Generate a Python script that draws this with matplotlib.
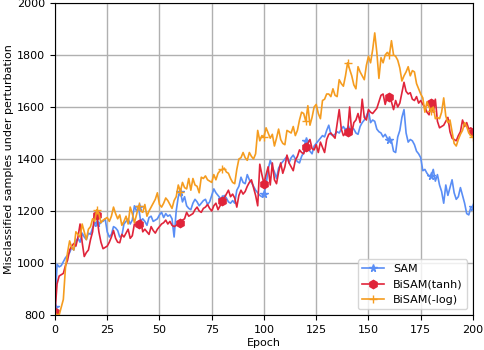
import matplotlib
matplotlib.use("Agg")
import matplotlib.pyplot as plt
import numpy as np

epochs = list(range(0, 201))

sam = [
    830, 995, 985, 990, 1005, 1020, 1030, 1040, 1060, 1050,
    1085, 1095, 1080, 1115, 1100, 1090, 1115, 1110, 1135, 1150,
    1155, 1145, 1160, 1160, 1170, 1120, 1100, 1110, 1140, 1135,
    1125, 1100, 1105, 1150, 1160, 1170, 1150, 1165, 1220, 1200,
    1215, 1160, 1170, 1160, 1145, 1175, 1180, 1160, 1165, 1170,
    1185, 1195, 1175, 1190, 1180, 1185, 1170, 1100, 1200, 1255,
    1275, 1235, 1255, 1220, 1210, 1205, 1230, 1245, 1235, 1220,
    1230, 1240, 1245, 1225, 1235, 1260, 1285, 1270, 1260, 1250,
    1245, 1260, 1250, 1235, 1230, 1240, 1230, 1280, 1295, 1330,
    1310, 1305, 1340, 1320, 1310, 1295, 1280, 1270, 1260, 1255,
    1265, 1300, 1360, 1395, 1370, 1350, 1325, 1365, 1380, 1390,
    1400, 1410, 1385, 1405, 1415, 1400, 1390, 1385, 1410, 1425,
    1470, 1440, 1430, 1420, 1450, 1460, 1470, 1480, 1490, 1485,
    1510, 1530, 1495, 1490, 1495, 1505, 1500, 1515, 1525, 1510,
    1515, 1505, 1520, 1515, 1500, 1495, 1525, 1540, 1550, 1565,
    1585, 1540, 1550, 1545, 1515, 1505, 1500, 1485, 1495, 1480,
    1475, 1470, 1430, 1425, 1485, 1510, 1560, 1590, 1500, 1465,
    1475, 1470, 1455, 1430, 1420, 1405, 1355, 1360, 1345, 1335,
    1335, 1360, 1315, 1340, 1300, 1275, 1230, 1300, 1260, 1290,
    1320, 1270, 1245, 1255, 1290, 1260, 1230, 1190, 1185, 1215,
    1215,
]

bisam_tanh = [
    810, 920, 950, 955, 960, 990, 1010, 1050, 1065, 1075,
    1065, 1100, 1150, 1080, 1025, 1040, 1050, 1090, 1120, 1190,
    1185, 1120, 1080, 1055, 1060, 1065, 1080, 1100, 1125, 1095,
    1080, 1078, 1110, 1100, 1115, 1130, 1095, 1105, 1150, 1145,
    1150, 1165, 1120, 1130, 1120, 1110, 1140, 1125, 1115, 1130,
    1140, 1150, 1155, 1165, 1150, 1160, 1145, 1140, 1145, 1150,
    1155, 1165, 1170, 1195, 1180, 1185, 1190, 1205, 1215, 1200,
    1195, 1210, 1215, 1225, 1210, 1200, 1220, 1230, 1205, 1220,
    1240, 1250, 1265, 1280, 1255, 1265, 1250, 1215, 1260, 1280,
    1265, 1275, 1295, 1310, 1320, 1290, 1260, 1220, 1380, 1340,
    1305, 1340, 1370, 1300, 1385, 1320, 1305, 1350, 1385, 1345,
    1370, 1415, 1385, 1370, 1355, 1395, 1410, 1435, 1425, 1420,
    1445, 1460, 1475, 1440, 1435, 1455, 1425, 1465, 1445, 1425,
    1475, 1495, 1500, 1490, 1480, 1535, 1590, 1515, 1490, 1500,
    1505, 1600, 1500, 1540, 1550, 1575, 1540, 1630, 1560, 1550,
    1590, 1580, 1575, 1585, 1595, 1620, 1645, 1650, 1610, 1640,
    1640, 1620, 1590, 1625, 1600, 1615, 1655, 1695, 1660, 1650,
    1655, 1630, 1625, 1640, 1615, 1625, 1610, 1600, 1580, 1570,
    1615, 1580, 1630, 1545, 1520, 1525, 1530, 1545, 1560, 1505,
    1480, 1475, 1470, 1490, 1505, 1550, 1525, 1540, 1515, 1520,
    1505,
]

bisam_log = [
    805, 800, 800, 830, 860, 980, 1040, 1085, 1060, 1050,
    1120, 1110, 1100, 1150, 1120, 1090, 1130, 1140, 1170, 1160,
    1205, 1190, 1155, 1165, 1170, 1175, 1160, 1180, 1215, 1190,
    1170, 1185, 1145, 1160, 1180, 1150, 1215, 1190, 1155, 1185,
    1220, 1200, 1195, 1225, 1180, 1200, 1215, 1230, 1245, 1270,
    1225, 1215, 1230, 1250, 1240, 1225, 1210, 1240, 1255, 1300,
    1275, 1310, 1290, 1285, 1325, 1280, 1325, 1300, 1295, 1270,
    1330, 1325, 1335, 1320, 1315, 1310, 1340, 1320, 1345, 1355,
    1360, 1365, 1350, 1345, 1325, 1310, 1305, 1360, 1400, 1405,
    1425, 1405, 1395, 1425, 1410, 1400, 1420, 1510, 1470, 1490,
    1485, 1520, 1500, 1480, 1495, 1450, 1480, 1515, 1475, 1460,
    1455, 1510, 1505, 1500, 1525, 1490, 1510, 1550, 1580, 1575,
    1545, 1605, 1530, 1560, 1600, 1610, 1575, 1555, 1625, 1630,
    1650, 1650, 1640, 1670, 1645, 1640, 1705, 1690, 1680, 1720,
    1770, 1745, 1720, 1685, 1670, 1755, 1735, 1720, 1705, 1760,
    1795, 1770, 1820, 1885, 1810, 1710, 1790, 1770, 1800, 1810,
    1800, 1855, 1800, 1795, 1780, 1750, 1700, 1720, 1735, 1755,
    1720, 1740, 1735, 1690, 1670, 1650, 1635, 1580, 1620, 1600,
    1585, 1600, 1555, 1560, 1555, 1580, 1635, 1565, 1540, 1550,
    1505, 1460, 1450, 1475, 1495, 1510, 1540, 1525, 1500, 1490,
    1485,
]

labels = ["SAM", "BiSAM(tanh)", "BiSAM(-log)"]
xticks = [0, 25, 50, 75, 100, 125, 150, 175, 200]
yticks = [800, 1000, 1200, 1400, 1600, 1800, 2000]

plt.rcParams['font.family'] = ['DejaVu Sans']
plt.rcParams['font.size'] = 8

fig = plt.figure(figsize=(4.84, 3.50), dpi=100)
ax = fig.add_axes([0.1136, 0.1, 0.8636, 0.8914])

ax.plot(epochs, sam, color='#5a8ef5', lw=1.2, marker='*', markersize=5.5,
        markevery=20, label=labels[0])
ax.plot(epochs, bisam_tanh, color='#e0243a', lw=1.2, marker='h', markersize=6,
        markevery=20, label=labels[1])
ax.plot(epochs, bisam_log, color='#f59c1f', lw=1.2, marker='+', markersize=6,
        markevery=20, label=labels[2])

ax.set_xlim(0, 200)
ax.set_ylim(800, 2000)
ax.set_xticks(xticks)
ax.set_yticks(yticks)
ax.grid(True, color='#b0b0b0', lw=1.0)
ax.set_axisbelow(True)
ax.tick_params(labelsize=8, length=3.5)
ax.set_xlabel("Epoch", fontsize=8, labelpad=2)
ax.set_ylabel("Misclassified samples under perturbation", fontsize=8, labelpad=2)
ax.legend(loc='lower right', fontsize=8, framealpha=0.8)

fig.savefig("out.png", dpi=100)
